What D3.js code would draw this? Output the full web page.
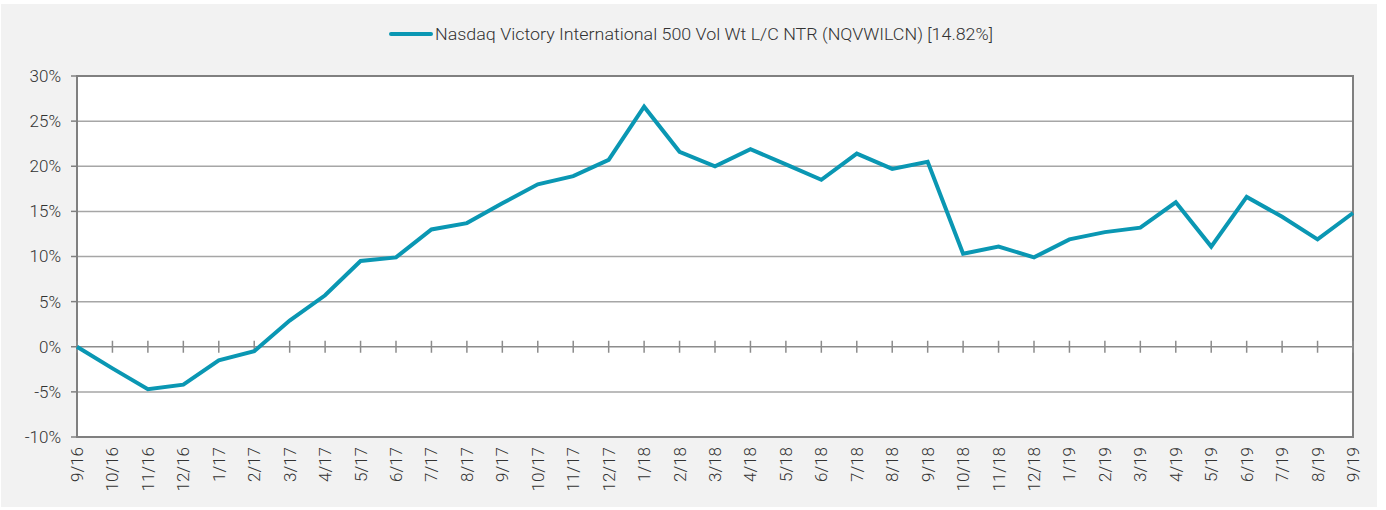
<!DOCTYPE html>
<html>
<head>
<meta charset="utf-8">
<script src="https://cdn.jsdelivr.net/npm/d3@7"></script>
<style>
  body { margin: 0; background: #fff; }
  text { font-family: Roboto, "Noto Sans", sans-serif; font-weight: 300; fill: #333; }
</style>
</head>
<body>
<div id="chart"></div>
<script>
var months = ["9/16","10/16","11/16","12/16","1/17","2/17","3/17","4/17","5/17","6/17","7/17","8/17",
  "9/17","10/17","11/17","12/17","1/18","2/18","3/18","4/18","5/18","6/18","7/18","8/18",
  "9/18","10/18","11/18","12/18","1/19","2/19","3/19","4/19","5/19","6/19","7/19","8/19","9/19"]
var returns = [0, -2.4, -4.7, -4.2, -1.5, -0.5, 2.9, 5.7, 9.5, 9.9, 13.0, 13.7,
  15.9, 18.0, 18.9, 20.7, 26.6, 21.6, 20.0, 21.9, 20.2, 18.5, 21.4, 19.7,
  20.5, 10.3, 11.1, 9.9, 11.9, 12.7, 13.2, 16.0, 11.1, 16.6, 14.4, 11.9, 14.82]
var yTicks = [-10, -5, 0, 5, 10, 15, 20, 25, 30]
var seriesName = "Nasdaq Victory International 500 Vol Wt L/C NTR (NQVWILCN) [14.82%]"

var W = 1386, H = 510
var svg = d3.select("#chart").append("svg").attr("width", W).attr("height", H)
svg.append("rect").attr("x", 1).attr("y", 4).attr("width", 1376).attr("height", 503).attr("fill", "#f2f2f2")

var pL = 77, pR = 1353, pT = 76, pB = 437
var x = d3.scalePoint().domain(months).range([pL, pR])
var y = d3.scaleLinear().domain([-10, 30]).range([pB, pT])

svg.append("rect").attr("x", pL).attr("y", pT).attr("width", pR - pL).attr("height", pB - pT).attr("fill", "#fff")

// gridlines
svg.append("g").selectAll("line").data(yTicks.filter(function(d) { return d != -10 && d != 30 && d != 0 }))
  .enter().append("line")
  .attr("x1", pL).attr("x2", pR)
  .attr("y1", function(d) { return y(d) }).attr("y2", function(d) { return y(d) })
  .attr("stroke", "#a6a6a6").attr("stroke-width", 1.5)

// frame
svg.append("rect").attr("x", pL).attr("y", pT).attr("width", pR - pL).attr("height", pB - pT)
  .attr("fill", "none").attr("stroke", "#808080").attr("stroke-width", 2)

// zero axis with cross ticks
svg.append("line").attr("x1", pL).attr("x2", pR).attr("y1", y(0)).attr("y2", y(0))
  .attr("stroke", "#8c8c8c").attr("stroke-width", 1.5)
svg.append("g").selectAll("line").data(months).enter().append("line")
  .attr("x1", function(d) { return x(d) }).attr("x2", function(d) { return x(d) })
  .attr("y1", y(0) - 6).attr("y2", y(0) + 6)
  .attr("stroke", "#8c8c8c").attr("stroke-width", 1.5)

// y tick marks and labels
svg.append("g").selectAll("line").data(yTicks).enter().append("line")
  .attr("x1", pL - 6).attr("x2", pL)
  .attr("y1", function(d) { return y(d) }).attr("y2", function(d) { return y(d) })
  .attr("stroke", "#808080").attr("stroke-width", 1.5)
svg.append("g").selectAll("text").data(yTicks).enter().append("text")
  .attr("x", 61).attr("y", function(d) { return y(d) })
  .attr("dy", "0.35em").attr("text-anchor", "end").attr("font-size", 17)
  .text(function(d) { return d + "%" })

// x labels
svg.append("g").selectAll("text").data(months).enter().append("text")
  .attr("transform", function(d) { return "translate(" + (x(d) + 6) + "," + 447 + ")rotate(-90)" })
  .attr("text-anchor", "end").attr("font-size", 17)
  .text(function(d) { return d })

// series line
var line = d3.line().x(function(d, i) { return x(months[i]) }).y(function(d) { return y(d) })
svg.append("path").datum(returns).attr("d", line)
  .attr("fill", "none").attr("stroke", "#0a97b3").attr("stroke-width", 4).attr("stroke-linejoin", "miter")

// legend
svg.append("line").attr("x1", 391).attr("x2", 431).attr("y1", 34).attr("y2", 34)
  .attr("stroke", "#0a97b3").attr("stroke-width", 4).attr("stroke-linecap", "round")
svg.append("text").attr("x", 435).attr("y", 34).attr("dy", "0.35em").attr("font-size", 17)
  .attr("textLength", 558).attr("lengthAdjust", "spacingAndGlyphs")
  .text(seriesName)
</script>
</body>
</html>
